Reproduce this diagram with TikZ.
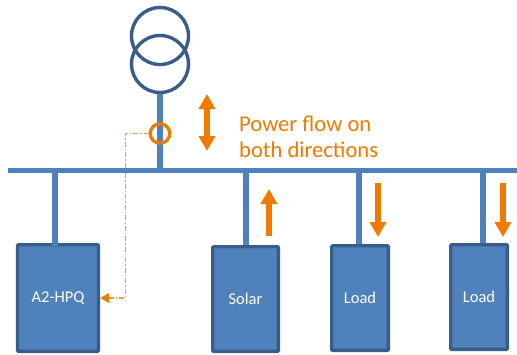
\documentclass[tikz,border=0pt]{standalone}
\usepackage{fontspec}
\setmainfont{Carlito}
\usetikzlibrary{arrows.meta}
\definecolor{busblue}{HTML}{4F81BD}
\definecolor{edgeblue}{HTML}{385D8A}
\definecolor{flow}{HTML}{EE7A00}
\definecolor{senseline}{HTML}{F29A45}
\tikzset{
  unit/.style={draw=edgeblue,line width=3.4pt,fill=busblue,rounded corners=1pt,inner sep=0pt,text=white,font=\fontsize{16.5}{18}\selectfont},
  winding/.style={circle,draw=edgeblue,line width=3.4pt,minimum size=57pt,inner sep=0pt},
  line/.style={draw=busblue,line width=5.4pt},
  flowarrow/.style={draw=flow,line width=6pt,-{Triangle[length=15pt,width=16pt]}},
  flowboth/.style={draw=flow,line width=6pt,{Triangle[length=15pt,width=16pt]}-{Triangle[length=15pt,width=16pt]}},
  meter/.style={circle,draw=flow,line width=3.3pt,minimum size=19.5pt,inner sep=0pt},
  sense/.style={color=senseline,line width=1.1pt,dash pattern=on 5pt off 2pt on 1.5pt off 2pt},
  sensetip/.style={-{Triangle[length=9pt,width=10pt,color=flow]}}
}
\begin{document}
\begin{tikzpicture}[x=1pt,y=-1pt]
      \useasboundingbox (0,0) rectangle (517,354);
      \node[unit,minimum width=81pt,minimum height=106.6pt] (a2hpq) at (58,298) {A2-HPQ};
      \node[unit,minimum width=65.6pt,minimum height=104.6pt] (solar) at (245.5,299) {Solar};
      \node[unit,minimum width=56.6pt,minimum height=104.6pt] (load1) at (360,298) {Load};
      \node[unit,minimum width=56.6pt,minimum height=104.6pt] (load2) at (479,297) {Load};
      \coordinate (busw) at (8,170.5);
      \coordinate (buse) at (517,170.5);
      \coordinate (tapa) at (55,170.5);
      \coordinate (tapb) at (246,170.5);
      \coordinate (tapc) at (359,170.5);
      \coordinate (tapd) at (483,170.5);
      \node[winding] (upper) at (160,36) {};
      \node[winding] (lower) at (160,64) {};
      \begin{scope}[line]
        \draw (lower) -- (lower |- busw);
        \draw (tapa) -- ([yshift=-3pt]tapa |- a2hpq.north);
        \draw (tapb) -- (tapb |- solar.north);
        \draw (tapc) -- (tapc |- load1.north);
        \draw (tapd) -- (tapd |- load2.north);
        \draw (busw) -- (buse);
      \end{scope}
      \node[meter] (ct) at (160,133.5) {};
      \coordinate (a) at (207,94);
      \coordinate (b) at (207,151);
      \coordinate (c) at (269,236);
      \coordinate (d) at (269,189);
      \coordinate (e) at (378,183);
      \coordinate (f) at (378,237);
      \coordinate (g) at (503,183);
      \coordinate (h) at (503,237);
      \draw[flowboth] (a) -- (b);
      \draw[flowarrow] (c) -- (d);
      \draw[flowarrow] (e) -- (f);
      \draw[flowarrow] (g) -- (h);
      \coordinate (bend) at (125.5,133.5);
      \draw[sense,sensetip] (ct) -- (bend) -- (bend |- a2hpq) -- (a2hpq);
      \node[anchor=west,text=flow,align=left,inner sep=0pt,font=\fontsize{22.6}{26}\selectfont] (note) at (239,137) {Power flow on\\both directions};
    \end{tikzpicture}
\end{document}
